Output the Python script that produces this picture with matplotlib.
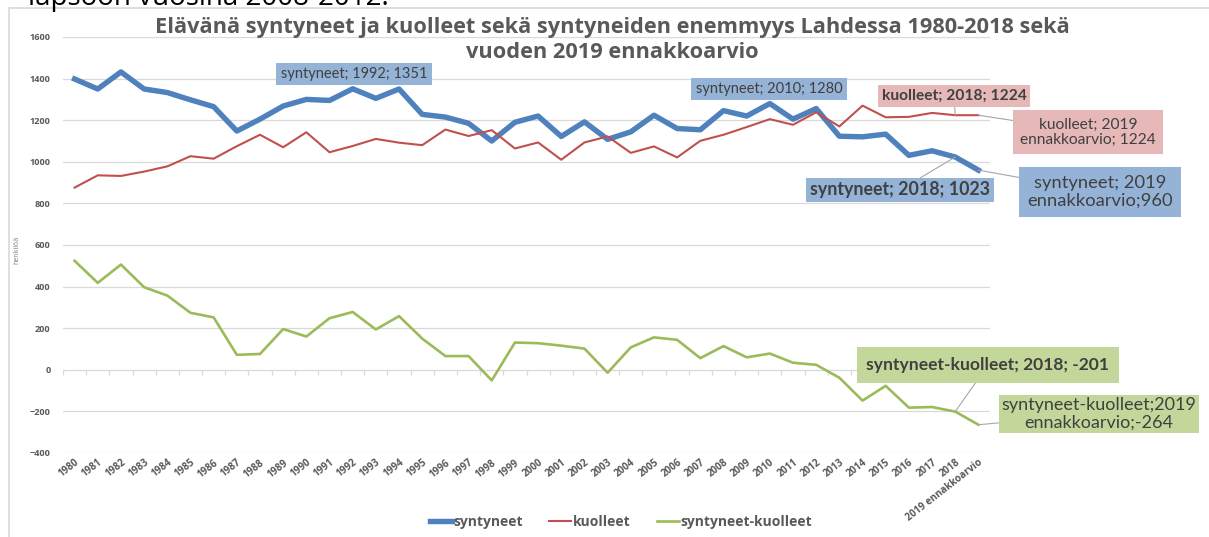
import matplotlib
matplotlib.use("Agg")
import matplotlib.pyplot as plt
from matplotlib.lines import Line2D
from matplotlib.patches import Rectangle
import numpy as np

plt.rcParams["font.family"] = ["Open Sans", "DejaVu Sans"]
LABEL_FONT = ["Lato", "DejaVu Sans"]

# ---- data ----
years = [str(y) for y in range(1980, 2019)] + ["2019 ennakkoarvio"]

syntyneet = [1398, 1350, 1432, 1350, 1333, 1298, 1265, 1148, 1205, 1268,
             1300, 1295, 1351, 1305, 1350, 1228, 1215, 1185, 1100, 1190,
             1220, 1122, 1192, 1108, 1144, 1224, 1160, 1154, 1246, 1220,
             1280, 1205, 1256, 1123, 1120, 1133, 1031, 1053, 1023, 960]

kuolleet = [876, 935, 932, 953, 978, 1027, 1015, 1075, 1130, 1070,
            1142, 1046, 1076, 1110, 1092, 1080, 1155, 1124, 1152, 1064,
            1093, 1010, 1093, 1122, 1043, 1074, 1021, 1101, 1130, 1167,
            1205, 1178, 1238, 1170, 1270, 1214, 1216, 1235, 1224, 1224]

erotus = [524, 418, 506, 397, 357, 274, 252, 72, 76, 196,
          160, 248, 278, 194, 258, 150, 66, 66, -51, 131,
          128, 116, 102, -14, 108, 156, 144, 56, 114, 60,
          78, 34, 24, -38, -148, -77, -182, -179, -201, -264]

yticks = [-400, -200, 0, 200, 400, 600, 800, 1000, 1200, 1400, 1600]

BLUE = "#4F81BD"
RED = "#C0504D"
GREEN = "#9BBB59"
GREY_TXT = "#595959"
GRID = "#D9D9D9"

W, H = 1209, 537
fig = plt.figure(figsize=(W / 100, H / 100), dpi=100)

def px(x, y):
    # image pixel (top-left origin) -> figure fraction
    return x / W, 1 - y / H

l, t = px(63, 37)
r, b = px(990, 453)
ax = fig.add_axes([l, b, r - l, t - b])

x = np.arange(len(years))
ax.plot(x, syntyneet, color=BLUE, lw=3.9, zorder=3)
ax.plot(x, kuolleet, color=RED, lw=1.5, zorder=3)
ax.plot(x, erotus, color=GREEN, lw=1.9, zorder=3)

ax.set_xlim(-0.5, len(years) - 0.5)
ax.set_ylim(-400, 1600)
ax.set_yticks(yticks)
for yv in yticks:
    ax.axhline(yv, color=GRID, lw=0.9, zorder=1)
# category boundary ticks on the zero line
ax.vlines(np.arange(len(years) + 1) - 0.5, -24, 0, color=GRID, lw=0.9, zorder=1)

for s in ax.spines.values():
    s.set_visible(False)
ax.tick_params(axis="y", length=0, pad=9, labelsize=6.6, labelcolor=GREY_TXT)
for lab in ax.get_yticklabels():
    lab.set_fontweight("bold")
ax.set_xticks(x)
ax.set_xticklabels(years, rotation=38, ha="right", rotation_mode="anchor",
                   fontsize=7.1, color=GREY_TXT, fontweight="bold")
ax.tick_params(axis="x", length=0, pad=3)

fig.text(17 / W, 1 - 250 / H, "henkilöä", rotation=90, ha="center", va="center",
         fontsize=5, color="#7F7F7F")

# title
fig.text(612 / W, 1 - 28 / H, "Elävänä syntyneet ja kuolleet sekä syntyneiden enemmyys Lahdessa 1980-2018 sekä",
         ha="center", va="center", fontsize=15.7, fontweight="bold", color=GREY_TXT)
fig.text(612 / W, 1 - 52 / H, "vuoden 2019 ennakkoarvio",
         ha="center", va="center", fontsize=15.7, fontweight="bold", color=GREY_TXT)

# clipped slide text above the chart
fig.text(28 / W, 1 - 5 / H, "lapsoon vuosina 2008-2012.", ha="left", va="baseline",
         fontsize=20, color="black")

# chart frame
fig.patches.append(Rectangle((9 / W, -0.1), 1.2, 1 - 8 / H + 0.1, transform=fig.transFigure,
                             fill=False, edgecolor=GRID, lw=1.2))

# data labels
LBL_BLUE = "#95B3D7"
LBL_RED = "#E6B9B8"
LBL_GREEN = "#C4D79B"
LEADER = dict(arrowstyle="-", color="#A6A6A6", lw=0.8, shrinkA=0, shrinkB=0)

def label(i, series, text, center, fc, size=10.5, bold=False, leader=False, pad=0.3):
    kw = dict(xy=(i, series[i]), xycoords="data",
              xytext=(center[0], H - center[1]), textcoords="figure pixels",
              ha="center", va="center", fontsize=size, color="#404040",
              family=LABEL_FONT,
              fontweight="bold" if bold else "normal", linespacing=1.1,
              bbox=dict(boxstyle=f"square,pad={pad}", fc=fc, ec="none"), zorder=5)
    if leader:
        kw["arrowprops"] = LEADER
    ax.annotate(text, **kw)

i92 = years.index("1992")
i10 = years.index("2010")
i18 = years.index("2018")
i19 = len(years) - 1

label(i92, syntyneet, f"syntyneet; {years[i92]}; {syntyneet[i92]}", (354, 74), LBL_BLUE, size=10.5)
label(i10, syntyneet, f"syntyneet; {years[i10]}; {syntyneet[i10]}", (769, 89), LBL_BLUE, size=10.5)
label(i18, kuolleet, f"kuolleet; {years[i18]}; {kuolleet[i18]}", (954, 96), LBL_RED,
      size=11.2, bold=True, leader=True, pad=0.25)
label(i19, kuolleet, f"kuolleet; 2019\nennakkoarvio; {kuolleet[i19]}", (1088, 132), LBL_RED,
      size=11.2, leader=True, pad=0.45)
label(i18, syntyneet, f"syntyneet; {years[i18]}; {syntyneet[i18]}", (900, 190), LBL_BLUE,
      size=12.8, bold=True, leader=True, pad=0.2)
label(i19, syntyneet, f"syntyneet; 2019\nennakkoarvio;{syntyneet[i19]}", (1100, 192), LBL_BLUE,
      size=13.2, leader=True, pad=0.45)
label(i18, erotus, f"syntyneet-kuolleet; {years[i18]}; {erotus[i18]}", (988, 365), LBL_GREEN,
      size=12.6, bold=True, leader=True, pad=0.55)
label(i19, erotus, f"syntyneet-kuolleet;2019\nennakkoarvio;{erotus[i19]}", (1099, 414), LBL_GREEN,
      size=13, leader=True, pad=0.15)

handles = [Line2D([], [], color=BLUE, lw=3.9),
           Line2D([], [], color=RED, lw=1.5),
           Line2D([], [], color=GREEN, lw=1.9)]
fig.legend(handles, ["syntyneet", "kuolleet", "syntyneet-kuolleet"],
           loc="center", bbox_to_anchor=(621 / W, 1 - 522 / H), ncol=3, frameon=False,
           handlelength=1.6, handletextpad=0.1, columnspacing=1.9,
           prop=dict(size=10, weight="bold"), labelcolor=GREY_TXT)

fig.savefig("out.png", dpi=100)
